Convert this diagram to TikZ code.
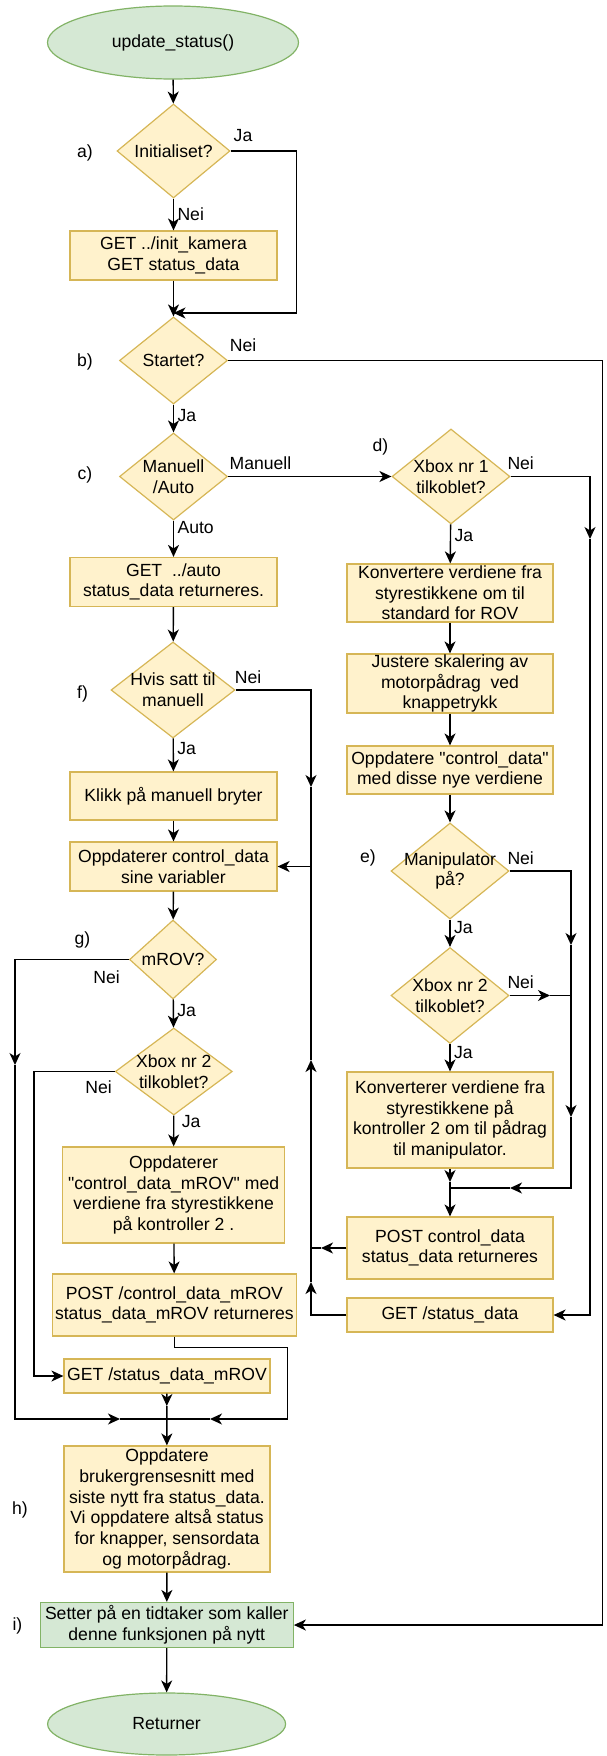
\documentclass[tikz,border=0pt]{standalone}
\usepackage{fontspec}
\setmainfont{Liberation Sans}[Ligatures=TeXOff]
\usetikzlibrary{shapes.geometric, arrows.meta}

\definecolor{yFill}{HTML}{FFF2CC}
\definecolor{yLine}{HTML}{D6B656}
\definecolor{gFill}{HTML}{D5E8D4}
\definecolor{gLine}{HTML}{82B366}

\begin{document}
\begin{tikzpicture}[
    x=1pt, y=-1pt, every node/.style={font=\fontsize{17.6}{20.7}\selectfont},
    bNode/.style={rectangle, draw=yLine, fill=yFill, line width=1.2pt, align=center, inner sep=0pt},
    dNode/.style={diamond, draw=yLine, fill=yFill, line width=1.2pt, inner sep=0pt},
    tNode/.style={rectangle, draw=gLine, fill=gFill, line width=1.2pt, align=center, inner sep=0pt},
    eNode/.style={ellipse, draw=gLine, fill=gFill, line width=1.2pt},
    link/.style={draw, line width=1.4pt, >={Stealth[length=12pt, width=11pt, inset=3.5pt]}}
]
    \useasboundingbox (0,0) rectangle (607,1756);

    % main column
    \node[eNode, minimum width=251pt, minimum height=73pt] (start) at (173,42.5) {update\_status()};
    \node[dNode, minimum width=113pt, minimum height=94pt, label={[align=center]center:{Initialiset?}}] (ia) at (173.5,151) {};
    \node[bNode, minimum width=207pt, minimum height=49pt] (init) at (173.5,255.5) {GET ../init\_kamera\\GET status\_data};
    \node[dNode, minimum width=108pt, minimum height=87pt, label={[align=center]center:{Startet?}}] (ib) at (173.5,360.5) {};
    \node[dNode, minimum width=108pt, minimum height=87pt, label={[align=center]center:{Manuell\\/Auto}}] (ic) at (173.5,476.5) {};
    \node[bNode, minimum width=207pt, minimum height=49pt] (auto) at (173.5,582) {GET~ ../auto\\status\_data returneres.};
    \node[dNode, minimum width=124pt, minimum height=96pt, label={[align=center]center:{Hvis satt til\\manuell}}] (if) at (173,690) {};
    \node[bNode, minimum width=207pt, minimum height=48pt] (klikk) at (173.5,796) {Klikk på manuell bryter};
    \node[bNode, minimum width=207pt, minimum height=49pt] (ctrl) at (173.5,866.5) {Oppdaterer control\_data\\sine variabler};
    \node[dNode, minimum width=87pt, minimum height=79pt, label={[align=center]center:{mROV?}}] (ig) at (173,959.5) {};
    \node[dNode, minimum width=117pt, minimum height=87pt, label={[align=center]center:{Xbox nr 2\\tilkoblet?}}] (ix2l) at (173.8,1071.5) {};
    \node[bNode, minimum width=222pt, minimum height=96pt] (mrovupd) at (173.6,1195) {Oppdaterer\\"control\_data\_mROV" med\\verdiene fra styrestikkene\\på kontroller 2 .};
    \node[bNode, minimum width=244pt, minimum height=62pt] (postm) at (174.4,1305) {POST /control\_data\_mROV\\status\_data\_mROV returneres};
    \node[bNode, minimum width=206pt, minimum height=34pt] (getm) at (167,1376) {GET /status\_data\_mROV};
    \node[bNode, minimum width=206pt, minimum height=126pt] (ui) at (167,1509) {Oppdatere\\brukergrensesnitt med\\siste nytt fra status\_data.\\Vi oppdatere altså status\\for knapper, sensordata\\og motorpådrag.};
    \node[tNode, minimum width=253pt, minimum height=45pt] (timer) at (166.8,1625) {Setter på en tidtaker som kaller\\denne funksjonen på nytt};
    \node[eNode, minimum width=238pt, minimum height=62pt] (end) at (166.6,1724) {Returner};

    % manual column
    \node[dNode, minimum width=118pt, minimum height=95pt, label={[align=center]center:{Xbox nr 1\\tilkoblet?}}] (id) at (451,476.5) {};
    \node[bNode, minimum width=206pt, minimum height=58pt] (konv) at (450,593) {Konvertere verdiene fra\\styrestikkene om til\\standard for ROV};
    \node[bNode, minimum width=206pt, minimum height=59pt] (just) at (450,683.5) {Justere skalering av\\motorpådrag~ ved\\knappetrykk};
    \node[bNode, minimum width=206pt, minimum height=48pt] (oppd) at (450,770) {Oppdatere "control\_data"\\med disse nye verdiene};
    \node[dNode, minimum width=118pt, minimum height=96pt, label={[align=center]center:{Manipulator\\på?}}] (ie) at (450,871) {};
    \node[dNode, minimum width=118pt, minimum height=96pt, label={[align=center]center:{Xbox nr 2\\tilkoblet?}}] (ix2r) at (450,995.5) {};
    \node[bNode, minimum width=206pt, minimum height=96pt] (konv2) at (450,1120) {Konverterer verdiene fra\\styrestikkene på\\kontroller 2 om til pådrag\\til manipulator.};
    \node[bNode, minimum width=206pt, minimum height=62pt] (post) at (450,1248) {POST control\_data\\status\_data returneres};
    \node[bNode, minimum width=206pt, minimum height=34pt] (gets) at (450,1315) {GET /status\_data};

    % step letters
    \node (la) at (85,153) {a)};
    \node (lb) at (85,362) {b)};
    \node (lc) at (85,475) {c)};
    \node (ld) at (380.5,447) {d)};
    \node (le) at (368,858) {e)};
    \node (lf) at (82.5,694) {f)};
    \node (lg) at (82.5,940) {g)};
    \node (lh) at (20,1510) {h)};
    \node (li) at (17.4,1626) {i)};

    % bends and joins
    \coordinate (aJa) at (296.5,313);
    \coordinate (rEdge) at (602.5,1625);
    \coordinate (dA) at (590,539);
    \coordinate (eA) at (571,945);
    \coordinate (eB) at (571,1117);
    \coordinate (eC) at (510,1188);
    \coordinate (kA) at (450,1182);
    \coordinate (xA) at (550,995.5);
    \coordinate (fA) at (311,787);
    \coordinate (pA) at (321,1248);
    \coordinate (gA) at (311,1282);
    \coordinate (gB) at (311,1060);
    \coordinate (gL1) at (15,1065);
    \coordinate (gL2) at (120,1419);
    \coordinate (xL) at (34,1376);
    \coordinate (pmC) at (287.7,1347.7);
    \coordinate (pm2) at (210,1419);
    \coordinate (gm1) at (166.8,1406);
    \coordinate (mJ) at (166.8,1419);

    \draw[link, ->] (start) -- (ia);
    \draw[link, ->] (ia) -- (init) node[pos=.5, right] {Nei};
    \draw[link, ->] (ia.east) -| (aJa) -- (aJa -| ib.north);
    \node (nJa1) at (243,136) {Ja};
    \draw[link, ->] (init) -- (ib);
    \draw[link, ->] (ib.east) -| (rEdge) -- (timer.east);
    \node (nNei2) at (243,345) {Nei};
    \draw[link, ->] (ib) -- (ic) node[pos=.4, right] {Ja};
    \draw[link, ->] (ic) -- (id);
    \node (nMan) at (260.5,463) {Manuell};
    \draw[link, ->] (ic) -- (auto) node[pos=.2, right] {Auto};
    \draw[link, ->] (auto) -- (if);
    \draw[link, ->] (if) -- (klikk) node[pos=.3, right] {Ja};
    \draw[link, ->] (if.east) -| (fA);
    \node (nNei3) at (248,677) {Nei};
    \draw[link, ->] (fA) |- (ctrl.east);
    \draw[link, ->] (klikk) -- (ctrl);
    \draw[link, ->] (ctrl) -- (ig);
    \draw[link, ->] (ig.west) -| (gL1);
    \node (nNei4) at (106.5,977) {Nei};
    \draw[link, ->] (gL1) |- (gL2);
    \draw[link] (gL2) -- (mJ);
    \draw[link, ->] (ig) -- (ix2l) node[pos=.4, right] {Ja};
    \draw[link, ->] (ix2l.west) -| (xL) -- (getm.west);
    \node (nNei5) at (98.7,1087) {Nei};
    \draw[link, ->] (ix2l) -- (mrovupd) node[pos=.2, right=4pt] {Ja};
    \draw[link, ->] (mrovupd) -- (postm);
    \draw[link, ->] (postm.south) |- (pmC) |- (pm2);
    \draw[link] (pm2) -- (mJ);
    \draw[link, ->] (getm) -- (gm1);
    \draw[link, ->] (gm1) -- (ui);
    \draw[link, ->] (ui) -- (timer);
    \draw[link, ->] (timer) -- (end);

    \draw[link, ->] (id.east) -| (dA);
    \node (nNei6) at (520.7,463) {Nei};
    \draw[link, ->] (dA) |- (gets.east);
    \draw[link, ->] (id) -- (konv) node[pos=.3, right] {Ja};
    \draw[link, ->] (konv) -- (just);
    \draw[link, ->] (just) -- (oppd);
    \draw[link, ->] (oppd) -- (ie);
    \draw[link, ->] (ie.east) -| (eA);
    \node (nNei7) at (520.7,858) {Nei};
    \draw[link, ->] (eA) -- (eB);
    \draw[link, ->] (eB) |- (eC);
    \draw[link] (eC) -- (eC -| konv2.south);
    \draw[link, ->] (ie) -- (ix2r) node[pos=.3, right] {Ja};
    \draw[link, ->] (ix2r.east) -- (xA);
    \draw[link] (xA) -- (xA -| eA);
    \node (nNei8) at (520.7,982) {Nei};
    \draw[link, ->] (ix2r) -- (konv2) node[pos=.3, right] {Ja};
    \draw[link, ->] (konv2) -- (kA);
    \draw[link, ->] (kA) -- (post);
    \draw[link, ->] (post.west) -- (pA);
    \draw[link] (pA) -- (pA -| fA);
    \draw[link, ->] (gets.west) -| (gA);
    \draw[link, ->] (gA) -- (gB);
    \draw[link] (gB) -- (gB |- ctrl.east);
\end{tikzpicture}
\end{document}
